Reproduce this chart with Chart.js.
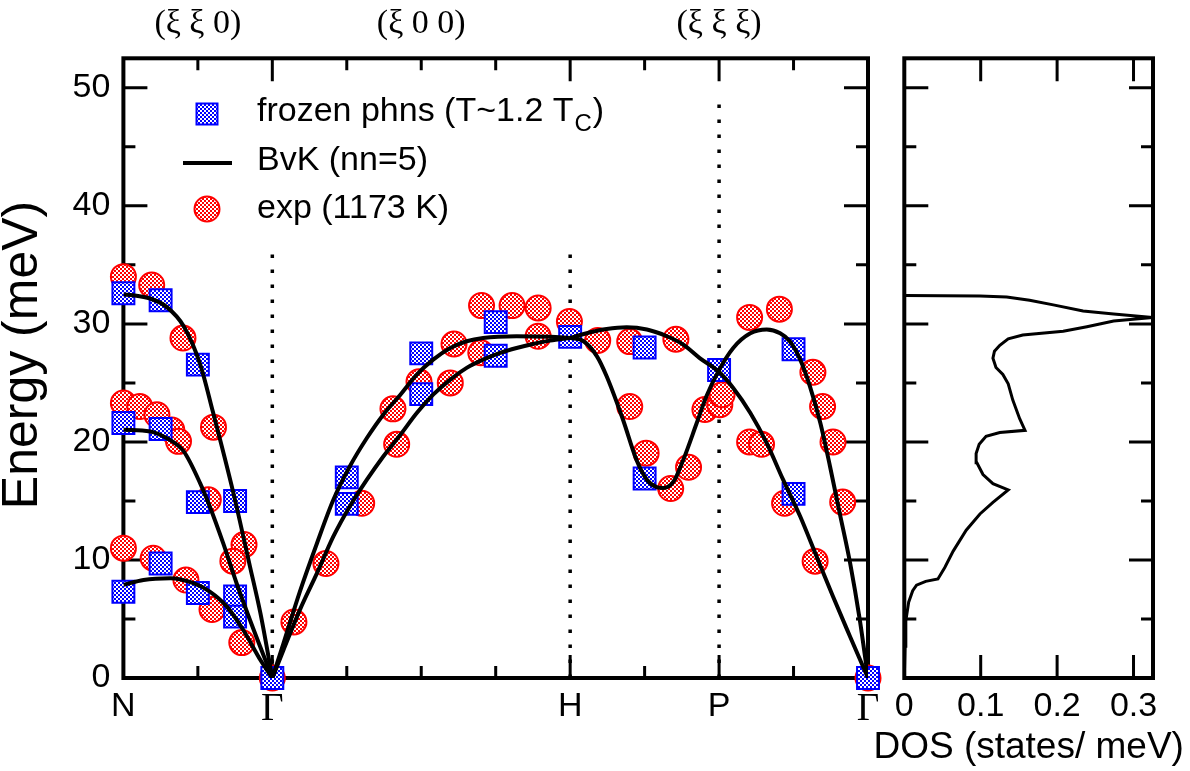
<!DOCTYPE html>
<html>
<head>
<meta charset="utf-8">
<script src="https://cdn.jsdelivr.net/npm/chart.js@4.4.1/dist/chart.umd.min.js"></script>
<style>
  html, body { margin: 0; padding: 0; background: #fff; }
  #wrap { position: relative; width: 1190px; height: 771px; overflow: hidden; }
  #disp { position: absolute; left: 0; top: 0; }
  #dos { position: absolute; left: 860px; top: 0; }
</style>
</head>
<body>
<div id="wrap">
  <canvas id="disp" width="890" height="771"></canvas>
  <canvas id="dos" width="330" height="771"></canvas>
</div>
<script>
// path through the zone, x in path units
const kPointPos = [0, 2, 6, 8, 10];
const kPointNames = ['N', 'Γ', 'H', 'P', 'Γ'];
const dirLabels = ['(ξ ξ 0)', '(ξ 0 0)', '(ξ ξ ξ)'];
const dirLabelPos = [1, 4, 8];
const vlinePos = [2, 6, 8];
const vlineTop = [36.7, 36.7, 49.4];
const energyTicks = [0, 10, 20, 30, 40, 50];
const dosTicks = [0, 0.1, 0.2, 0.3];
const dosTickLabels = ['0', '0.1', '0.2', '0.3'];

// frozen phonon calculation
const frozenQ = [0, 0.5, 1, 0, 0.5, 1, 1.5, 0.5, 0, 1, 1.5, 1.5, 2,
                 3, 3, 4, 4, 5, 5, 6, 7, 7, 8, 9, 9, 10];
const frozenE = [32.6, 32.0, 26.55, 21.6, 21.1, 14.9, 15.0, 9.7, 7.3, 7.2, 6.9, 5.2, 0,
                 17.0, 14.75, 27.5, 24.05, 30.15, 27.3, 28.9, 28.0, 16.9, 26.1, 27.85, 15.6, 0];

// experiment (1173 K)
const expQ = [0, 0.38, 0.80, 1.21, 0, 0.22, 0.45, 0.65, 0.74, 1.14, 0, 0.40, 0.84, 1.19, 1.62, 1.47, 1.59, 2,
              2.29, 2.72, 3.2, 3.67, 3.62, 3.97, 4.39, 4.44, 4.80, 4.81, 5.22, 5.57, 5.57, 5.99, 6.37,
              6.80, 7.42, 6.80, 7.02, 7.35, 7.59, 7.81, 8.01, 8.04, 8.41, 8.81, 8.41, 8.57, 8.88,
              9.26, 9.39, 9.53, 9.66, 9.29, 10];
const expE = [34.0, 33.3, 28.8, 21.25, 23.3, 23.0, 22.3, 21.0, 20.05, 15.1, 11.0, 10.15, 8.3, 5.8, 11.3, 9.9, 3.0, 0,
              4.75, 9.7, 14.8, 19.8, 22.8, 25.1, 25.0, 28.3, 27.55, 31.55, 31.55, 31.35, 28.95, 30.2, 28.6,
              28.5, 28.7, 23.0, 19.05, 16.05, 17.85, 22.75, 23.15, 24.0, 30.55, 31.25, 20.0, 19.8, 14.8,
              25.9, 23.0, 20.0, 14.9, 9.9, 0];

// BvK (nn=5) branches, N -> Gamma
const ngQ1 = [0, 0.13, 0.36, 0.58, 0.81, 1.03, 1.2, 1.48, 1.70, 1.84, 2];
const ngE1 = [32.48, 32.43, 32.15, 31.44, 29.8, 26.6, 22.6, 15.6, 9.44, 5.49, 0];
const ngQ2 = [0, 0.36, 0.58, 0.81, 1.03, 1.16, 1.34, 1.52, 1.70, 2];
const ngE2 = [21.03, 20.89, 20.33, 19.2, 16.51, 14.53, 11.42, 8.03, 4.92, 0];
const ngQ3 = [0, 0.27, 0.63, 0.94, 1.16, 1.39, 1.61, 1.84, 2];
const ngE3 = [7.89, 8.31, 8.45, 8.03, 7.32, 6.05, 4.07, 1.53, 0];

// Gamma -> H
const ghQ1 = [2, 2.15, 2.37, 2.6, 2.82, 3.04, 3.27, 3.49, 3.72, 3.94, 4.16, 4.39, 4.61, 4.83, 5.28, 5.73, 6];
const ghE1 = [0, 2.94, 7.32, 11.42, 15.1, 17.92, 20.33, 22.31, 24.0, 25.7, 26.97, 27.96, 28.53, 28.81, 28.95, 28.9, 28.81];
const ghQ2 = [2, 2.15, 2.37, 2.6, 2.82, 3.04, 3.27, 3.49, 3.72, 3.94, 4.16, 4.39, 4.61, 4.83, 5.06, 5.28, 5.5, 5.73, 6];
const ghE2 = [0, 2.37, 5.77, 8.88, 11.99, 14.53, 16.8, 18.77, 20.61, 22.45, 24.0, 25.28, 26.27, 26.97, 27.54, 27.96, 28.3, 28.58, 28.81];

// H -> P -> Gamma
const hgQ1 = [6, 6.18, 6.36, 6.49, 6.71, 6.89, 7.03, 7.16, 7.25, 7.39, 7.52, 7.70, 7.83, 7.99,
              8.19, 8.42, 8.64, 8.82, 8.95, 9.09, 9.22, 9.36, 9.49, 9.62, 9.76, 9.89, 10];
const hgE1 = [28.81, 28.53, 27.25, 25.56, 21.88, 18.49, 16.8, 16.17, 16.09, 16.65, 18.49, 21.6, 23.86, 25.98,
              27.96, 29.2, 29.52, 29.2, 28.53, 26.97, 24.71, 21.6, 17.92, 13.97, 9.73, 4.92, 0];
const hgQ2 = [6, 6.27, 6.49, 6.76, 7.03, 7.3, 7.52, 7.74, 7.99, 8.19, 8.42, 8.64, 8.86, 9.09, 9.31, 9.53, 9.76, 10];
const hgE2 = [28.81, 29.29, 29.57, 29.71, 29.52, 28.95, 28.24, 27.1, 25.98, 24.57, 22.45, 19.9, 16.8, 13.68, 10.29, 6.9, 3.5, 0];

// phonon DOS (energy in meV, states/meV)
const dosE = [0, 2.68, 4.84, 6.42, 7.4, 7.87, 8.19, 8.39, 9.37, 10.75, 12.52, 13.9, 14.88, 15.94,
              16.46, 17.24, 18.23, 19.02, 19.8, 20.47, 20.79, 20.98, 21.97, 23.54, 24.92, 25.71, 26.3,
              27.09, 27.68, 28.19, 28.74, 29.06, 29.37, 29.76, 30.24, 30.55, 30.83, 31.1, 31.61, 32.0,
              32.28, 32.36, 32.4];
const dosVal = [0, 0.001, 0.002, 0.0057, 0.011, 0.016, 0.028, 0.044, 0.053, 0.064, 0.081, 0.099, 0.116, 0.136,
                0.116, 0.103, 0.095, 0.094, 0.098, 0.107, 0.125, 0.158, 0.151, 0.142, 0.136, 0.129, 0.120,
                0.116, 0.118, 0.125, 0.136, 0.155, 0.208, 0.239, 0.274, 0.325, 0.274, 0.234, 0.195, 0.164,
                0.134, 0.099, 0];

const sansFont = "'Liberation Sans', Arial, Helvetica, sans-serif";
const serifFont = "'Liberation Serif', 'Times New Roman', serif";

function pts(qs, es) {
    return qs.map((q, i) => ({ x: q, y: es[i] }));
}

// small checkerboard fill used by the symbols
function checker(ctx, color) {
    const c = document.createElement('canvas');
    c.width = 4;
    c.height = 4;
    const g = c.getContext('2d');
    g.fillStyle = '#fff';
    g.fillRect(0, 0, 4, 4);
    g.fillStyle = color;
    g.fillRect(0, 0, 2, 2);
    g.fillRect(2, 2, 2, 2);
    return ctx.createPattern(c, 'repeat');
}

// frame with inward ticks on all four sides
const framePlugin = {
    id: 'frame',
    beforeDatasetsDraw(chart, args, opts) {
        const { ctx, chartArea: a } = chart;
        const x = chart.scales.x, y = chart.scales.y;
        ctx.save();
        ctx.strokeStyle = '#000';
        ctx.lineWidth = 3;
        ctx.beginPath();
        const vt = (vals, len) => vals.forEach(v => {
            const p = x.getPixelForValue(v);
            ctx.moveTo(p, a.bottom); ctx.lineTo(p, a.bottom - len);
            ctx.moveTo(p, a.top); ctx.lineTo(p, a.top + len);
        });
        const ht = (vals, len) => vals.forEach(v => {
            const p = y.getPixelForValue(v);
            ctx.moveTo(a.left, p); ctx.lineTo(a.left + len, p);
            ctx.moveTo(a.right, p); ctx.lineTo(a.right - len, p);
        });
        vt(opts.xLong, 23);
        vt(opts.xShort, 12);
        ht(opts.yLong, 24);
        ht(opts.yShort, 12);
        ctx.stroke();
        ctx.lineWidth = 4;
        ctx.strokeRect(a.left, a.top, a.width, a.height);
        ctx.restore();
    }
};

const dispCanvas = document.getElementById('disp');
const dctx = dispCanvas.getContext('2d');
const bluePat = checker(dctx, '#0000ff');
const redPat = checker(dctx, '#ff0000');

// labels, axis title and legend of the dispersion panel
const dispText = {
    id: 'dispText',
    afterDraw(chart) {
        const { ctx } = chart;
        const x = chart.scales.x;
        ctx.save();
        ctx.fillStyle = '#000';
        ctx.textAlign = 'center';
        ctx.textBaseline = 'alphabetic';
        ctx.font = '34px ' + serifFont;
        dirLabels.forEach((t, i) => ctx.fillText(t, x.getPixelForValue(dirLabelPos[i]), 33));

        ctx.save();
        ctx.translate(37, 355);
        ctx.rotate(-Math.PI / 2);
        ctx.font = '50px ' + sansFont;
        ctx.fillText('Energy (meV)', 0, 0);
        ctx.restore();

        // legend
        ctx.textAlign = 'left';
        ctx.font = '34px ' + sansFont;
        ctx.fillStyle = bluePat;
        ctx.strokeStyle = '#0000ff';
        ctx.lineWidth = 2;
        ctx.fillRect(196.5, 103.5, 21, 21);
        ctx.strokeRect(196.5, 103.5, 21, 21);
        ctx.fillStyle = '#000';
        const t1 = 'frozen phns (T~1.2 T';
        ctx.fillText(t1, 257, 121);
        const w = ctx.measureText(t1).width;
        ctx.font = '24px ' + sansFont;
        ctx.fillText('C', 257 + w + 1, 131);
        const wc = ctx.measureText('C').width;
        ctx.font = '34px ' + sansFont;
        ctx.fillText(')', 257 + w + wc + 2, 121);

        ctx.strokeStyle = '#000';
        ctx.lineWidth = 4;
        ctx.beginPath();
        ctx.moveTo(183, 163);
        ctx.lineTo(232, 163);
        ctx.stroke();
        ctx.fillText('BvK (nn=5)', 257, 170);

        ctx.fillStyle = redPat;
        ctx.strokeStyle = '#ff0000';
        ctx.lineWidth = 2;
        ctx.beginPath();
        ctx.arc(207, 209, 12.5, 0, Math.PI * 2);
        ctx.fill();
        ctx.stroke();
        ctx.fillStyle = '#000';
        ctx.fillText('exp (1173 K)', 257, 218);
        ctx.restore();
    }
};

function bvk(qs, es) {
    return {
        data: pts(qs, es), showLine: true, pointRadius: 0, borderColor: '#000',
        borderWidth: 4, cubicInterpolationMode: 'monotone', order: 0
    };
}

const vlineSets = vlinePos.map((q, i) => ({
    data: [{ x: q, y: 0 }, { x: q, y: vlineTop[i] }], showLine: true, pointRadius: 0,
    borderColor: '#000', borderWidth: 3.5, borderDash: [3.5, 11.5], order: 3
}));

new Chart(dctx, {
    type: 'scatter',
    data: {
        datasets: [
            bvk(ngQ1, ngE1), bvk(ngQ2, ngE2), bvk(ngQ3, ngE3),
            bvk(ghQ1, ghE1), bvk(ghQ2, ghE2),
            bvk(hgQ1, hgE1), bvk(hgQ2, hgE2),
            {
                data: pts(frozenQ, frozenE), pointStyle: 'rect', pointRadius: 15.5,
                pointBorderWidth: 2, pointBorderColor: '#0000ff', pointBackgroundColor: bluePat,
                clip: false, order: 1
            },
            {
                data: pts(expQ, expE), pointStyle: 'circle', pointRadius: 12.5,
                pointBorderWidth: 2, pointBorderColor: '#ff0000', pointBackgroundColor: redPat,
                clip: false, order: 2
            },
            ...vlineSets
        ]
    },
    options: {
        responsive: false,
        animation: false,
        events: [],
        layout: { padding: { left: 0, top: 58.3, right: 22, bottom: 0 } },
        plugins: {
            legend: { display: false },
            tooltip: { enabled: false },
            frame: {
                xLong: [2, 6, 8], xShort: [1, 3, 4, 5, 7, 9],
                yLong: [10, 20, 30, 40, 50], yShort: [5, 15, 25, 35, 45]
            }
        },
        scales: {
            x: {
                type: 'linear', min: 0, max: 10,
                grid: { display: false, drawTicks: false }, border: { display: false },
                afterBuildTicks: s => { s.ticks = kPointPos.map(v => ({ value: v })); },
                afterFit: s => { s.height = 93; },
                ticks: {
                    autoSkip: false, maxRotation: 0, padding: 8, color: '#000',
                    callback: (v, i) => kPointNames[i],
                    font: c => (c.index === 1 || c.index === 4)
                        ? { family: serifFont, size: 39 }
                        : { family: sansFont, size: 34 }
                }
            },
            y: {
                type: 'linear', min: 0, max: 52.5,
                grid: { display: false, drawTicks: false }, border: { display: false },
                afterBuildTicks: s => { s.ticks = energyTicks.map(v => ({ value: v })); },
                afterFit: s => { s.width = 123.4; },
                ticks: { padding: 13, color: '#000', font: { family: sansFont, size: 34 } }
            }
        }
    },
    plugins: [framePlugin, dispText]
});

// DOS panel
const dosText = {
    id: 'dosText',
    afterDraw(chart) {
        const { ctx, chartArea: a } = chart;
        ctx.save();
        ctx.fillStyle = '#000';
        ctx.textAlign = 'center';
        ctx.font = '37px ' + sansFont;
        ctx.fillText('DOS (states/ meV)', (a.left + a.right) / 2, 758);
        ctx.restore();
    }
};

new Chart(document.getElementById('dos').getContext('2d'), {
    type: 'scatter',
    data: {
        datasets: [{
            data: dosVal.map((d, i) => ({ x: d, y: dosE[i] })), showLine: true, pointRadius: 0,
            borderColor: '#000', borderWidth: 3, tension: 0
        }]
    },
    options: {
        responsive: false,
        animation: false,
        events: [],
        layout: { padding: { left: 44.3, top: 58.3, right: 37, bottom: 0 } },
        plugins: {
            legend: { display: false },
            tooltip: { enabled: false },
            frame: {
                xLong: [0.1, 0.2, 0.3], xShort: [],
                yLong: [10, 20, 30, 40, 50], yShort: [5, 15, 25, 35, 45]
            }
        },
        scales: {
            x: {
                type: 'linear', min: 0, max: 0.3255,
                grid: { display: false, drawTicks: false }, border: { display: false },
                afterBuildTicks: s => { s.ticks = dosTicks.map(v => ({ value: v })); },
                afterFit: s => { s.height = 93; },
                ticks: {
                    autoSkip: false, maxRotation: 0, padding: 8, color: '#000',
                    callback: (v, i) => dosTickLabels[i],
                    font: { family: sansFont, size: 34 }
                }
            },
            y: { type: 'linear', min: 0, max: 52.5, display: false }
        }
    },
    plugins: [framePlugin, dosText]
});
</script>
</body>
</html>
